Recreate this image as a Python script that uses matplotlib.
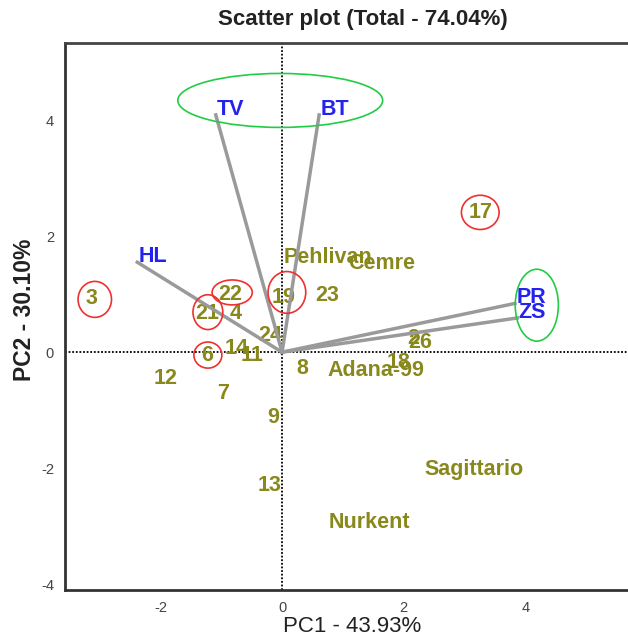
import matplotlib
matplotlib.use("Agg")
import matplotlib.pyplot as plt
from matplotlib.patches import Ellipse

plt.rcParams['font.family'] = ['Liberation Sans', 'DejaVu Sans']
plt.rcParams['axes.unicode_minus'] = False

# genotype scores (PC1, PC2)
gen_names = ['Pehlivan', 'Cemre', '23', '19', '22', '21', '4', '24', '6', '14',
             '11', '12', '7', '9', '13', '8', 'Adana-99', '18', '2', '26',
             '17', 'Sagittario', 'Nurkent', '3']
gen_pc1 = [0.76, 1.63, 0.74, 0.02, -0.86, -1.23, -0.77, -0.20, -1.23, -0.74,
           -0.49, -1.92, -0.97, -0.15, -0.20, 0.33, 1.55, 1.91, 2.15, 2.27,
           3.26, 3.16, 1.43, -3.14]
gen_pc2 = [1.64, 1.53, 0.98, 0.95, 1.00, 0.67, 0.67, 0.29, -0.05, 0.07,
           -0.05, -0.45, -0.71, -1.12, -2.29, -0.28, -0.31, -0.17, 0.24, 0.17,
           2.41, -2.03, -2.93, 0.93]

# trait vectors
trait_names = ['HL', 'TV', 'BT', 'PR', 'ZS']
trait_pc1 = [-2.38, -1.09, 0.61, 3.83, 3.87]
trait_pc2 = [1.55, 4.09, 4.09, 0.84, 0.59]

# highlighted genotypes (red circles): centre, width, height
hl_x = [-3.08, -0.82, 0.08, -1.22, -1.22, 3.26]
hl_y = [0.91, 1.03, 1.03, 0.69, -0.05, 2.41]
hl_w = [0.55, 0.66, 0.62, 0.49, 0.46, 0.62]
hl_h = [0.62, 0.43, 0.72, 0.60, 0.45, 0.59]

# trait groups (green ellipses)
grp_x = [-0.03, 4.19]
grp_y = [4.34, 0.81]
grp_w = [3.37, 0.71]
grp_h = [0.93, 1.24]

olive = '#88881c'
blue = '#2323f0'

fig = plt.figure(figsize=(6.28, 6.39), dpi=100)
ax = fig.add_axes([0.1035, 0.0767, 0.8965, 0.856])
ax.set_xlim(-3.57, 5.69)
ax.set_ylim(-4.10, 5.33)

ax.axhline(0, color='black', lw=1.3, ls=(0, (1, 1)), zorder=1)
ax.axvline(0, color='black', lw=1.3, ls=(0, (1, 1)), zorder=1)

for name, x, y in zip(gen_names, gen_pc1, gen_pc2):
    ax.text(x, y, name, color=olive, fontsize=15.5, fontweight='bold',
            ha='center', va='center', zorder=2)

for name, x, y in zip(trait_names, trait_pc1, trait_pc2):
    ax.plot([0, x], [0, y], color='#9a9a9a', lw=2.5, zorder=3)
    ax.annotate(name, (x, y), xytext=(1, 4), textcoords='offset points',
                color=blue, fontsize=15.5, fontweight='bold',
                ha='left', va='center', zorder=4)

for x, y, w, h in zip(hl_x, hl_y, hl_w, hl_h):
    ax.add_patch(Ellipse((x, y), w, h, fill=False, ec='#ee3030', lw=1.2, zorder=5))
for x, y, w, h in zip(grp_x, grp_y, grp_w, grp_h):
    ax.add_patch(Ellipse((x, y), w, h, fill=False, ec='#22cc44', lw=1.2, zorder=5))

ax.set_xticks([-2, 0, 2, 4])
ax.set_yticks([-4, -2, 0, 2, 4])
ax.tick_params(length=0, labelsize=10.5, labelcolor='#444444', pad=8)
for s in ('left', 'bottom'):
    ax.spines[s].set_linewidth(2)
    ax.spines[s].set_color('#333333')
ax.spines['top'].set_linewidth(2)
ax.spines['top'].set_color('#444444')
ax.spines['right'].set_visible(False)

fig.text(363 / 628, 1 - 20 / 639, 'Scatter plot (Total - 74.04%)', fontsize=16,
         fontweight='bold', ha='center', va='center', color='#222222')
fig.text(352 / 628, 1 - 626 / 639, 'PC1 - 43.93%', fontsize=16,
         ha='center', va='center', color='#222222')
fig.text(25 / 628, 1 - 310 / 639, 'PC2 - 30.10%', fontsize=16.5, fontweight='bold',
         rotation=90, ha='center', va='center', color='#222222')

fig.savefig('out.png', dpi=100)
